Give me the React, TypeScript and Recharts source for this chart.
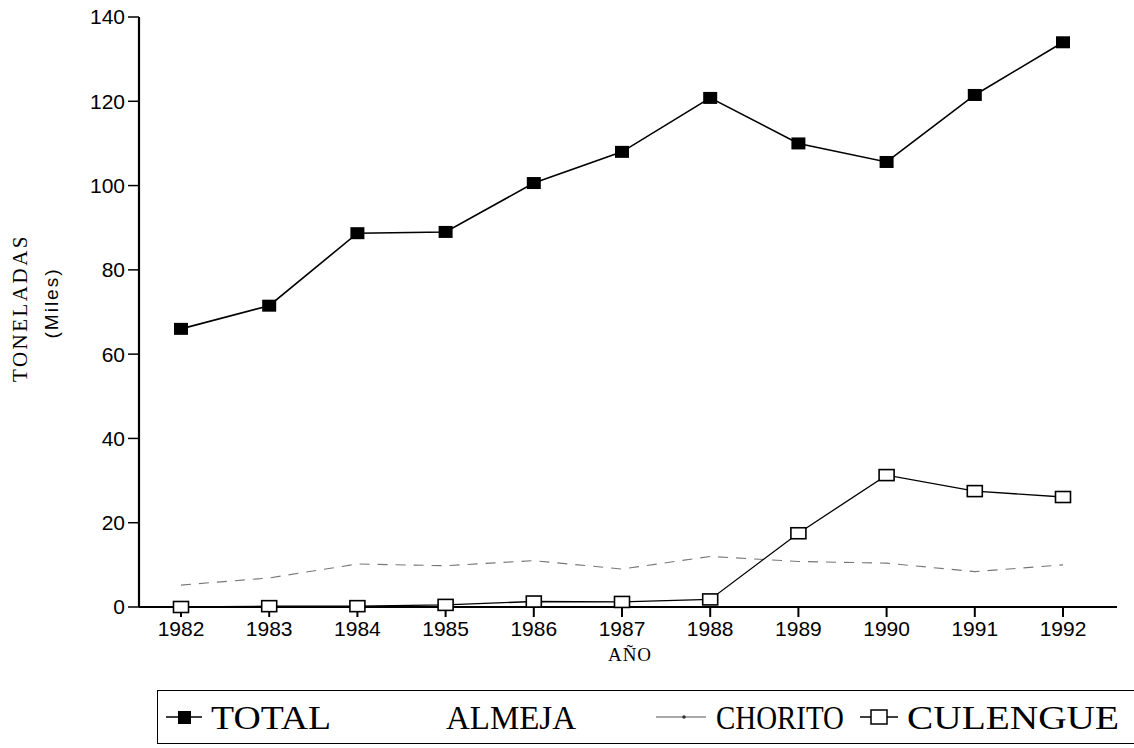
import React from 'react';
import { LineChart, Line, XAxis, YAxis } from 'recharts';

const YEARS = ['1982', '1983', '1984', '1985', '1986', '1987', '1988', '1989', '1990', '1991', '1992'];
const TOTAL = [66, 71.5, 88.7, 89, 100.6, 108, 120.8, 110, 105.6, 121.5, 134];
const CHORITO = [5.2, 6.9, 10.2, 9.8, 11, 9, 12, 10.8, 10.4, 8.4, 10];
const CULENGUE = [0, 0.2, 0.2, 0.5, 1.3, 1.2, 1.8, 17.5, 31.3, 27.5, 26.1];
const Y_TICKS = [0, 20, 40, 60, 80, 100, 120, 140];
const SERIES_NAMES = ['TOTAL', 'ALMEJA', 'CHORITO', 'CULENGUE'];

const data = YEARS.map((y, i) => ({
  year: y,
  total: TOTAL[i],
  chorito: CHORITO[i],
  culengue: CULENGUE[i],
}));

const SANS = '"Liberation Sans", Arial, sans-serif';
const SERIF = '"Liberation Serif", "Times New Roman", serif';

const FilledSquare = (props: any) => {
  const { cx, cy, index } = props;
  if (cx == null || cy == null) return <g key={index} />;
  return <rect key={index} x={cx - 7} y={cy - 6} width={14} height={12} fill="#000" />;
};

const OpenSquare = (props: any) => {
  const { cx, cy, index } = props;
  if (cx == null || cy == null) return <g key={index} />;
  return <rect key={index} x={cx - 7.5} y={cy - 5.5} width={15} height={11} fill="#fff" stroke="#000" strokeWidth={1.6} />;
};

const LEGEND_LAYOUT = [
  { sym: 8, text: 53, w: 120 },
  { sym: -1, text: 288, w: 130 },
  { sym: 498, text: 558, w: 128 },
  { sym: 702, text: 749, w: 212 },
];

function LegendBox() {
  return (
    <div
      style={{
        position: 'absolute',
        left: 157,
        top: 690,
        width: 977,
        height: 54,
        borderTop: '1.5px solid #000',
        borderLeft: '1.5px solid #000',
        borderBottom: '1.5px solid #000',
        boxSizing: 'border-box',
      }}
    >
      <svg width={977} height={52} style={{ position: 'absolute', left: 0, top: 0 }}>
        <line x1={LEGEND_LAYOUT[0].sym} x2={LEGEND_LAYOUT[0].sym + 36} y1={26} y2={26} stroke="#000" strokeWidth={1.5} />
        <rect x={LEGEND_LAYOUT[0].sym + 12} y={20} width={13} height={13} fill="#000" />
        <line x1={LEGEND_LAYOUT[2].sym} x2={LEGEND_LAYOUT[2].sym + 50} y1={26} y2={26} stroke="#555" strokeWidth={1.2} />
        <circle cx={LEGEND_LAYOUT[2].sym + 28} cy={26} r={1.8} fill="#333" />
        <line x1={LEGEND_LAYOUT[3].sym} x2={LEGEND_LAYOUT[3].sym + 38} y1={26} y2={26} stroke="#000" strokeWidth={1.5} />
        <rect x={LEGEND_LAYOUT[3].sym + 11} y={19} width={16} height={14} fill="#fff" stroke="#000" strokeWidth={1.5} />
        {SERIES_NAMES.map((n, i) => (
          <text
            key={n}
            x={LEGEND_LAYOUT[i].text}
            y={26}
            dominantBaseline="central"
            fontFamily={SERIF}
            fontSize={34}
            textLength={LEGEND_LAYOUT[i].w}
            lengthAdjust="spacingAndGlyphs"
            fill="#000"
          >
            {n}
          </text>
        ))}
      </svg>
    </div>
  );
}

export default function App() {
  return (
    <div style={{ position: 'absolute', left: 0, top: 0, width: 1134, height: 748, background: '#fff', overflow: 'hidden' }}>
      <LineChart
        width={1134}
        height={748}
        data={data}
        margin={{ top: 17, right: 17, left: 70, bottom: 81 }}
      >
        <XAxis
          xAxisId="bottom"
          dataKey="year"
          height={60}
          padding={{ left: 42, right: 54 }}
          tickSize={10}
          tickMargin={4}
          axisLine={{ stroke: '#000', strokeWidth: 2.2 }}
          tickLine={{ stroke: '#000', strokeWidth: 2 }}
          tick={{ fill: '#000', fontSize: 21, fontFamily: SANS }}
          interval={0}
        />
        <XAxis
          xAxisId="top"
          dataKey="year"
          orientation="top"
          height={0}
          padding={{ left: 42, right: 54 }}
          tick={false}
          tickLine={false}
          axisLine={{ stroke: '#000', strokeWidth: 2.4 }}
        />
        <YAxis
          yAxisId="left"
          width={69}
          domain={[0, 140]}
          ticks={Y_TICKS}
          tickSize={11}
          tickMargin={3}
          interval={0}
          axisLine={{ stroke: '#000', strokeWidth: 2.2 }}
          tickLine={{ stroke: '#000', strokeWidth: 1.5 }}
          tick={{ fill: '#000', fontSize: 21, fontFamily: SANS }}
        />
        <YAxis
          yAxisId="right"
          orientation="right"
          width={0}
          domain={[0, 140]}
          tick={false}
          tickLine={false}
          axisLine={{ stroke: '#000', strokeWidth: 1.6 }}
        />
        <Line
          xAxisId="bottom"
          yAxisId="left"
          dataKey="chorito"
          type="linear"
          stroke="#777"
          strokeWidth={1.1}
          strokeDasharray="10 8"
          dot={false}
          isAnimationActive={false}
        />
        <Line
          xAxisId="bottom"
          yAxisId="left"
          dataKey="culengue"
          type="linear"
          stroke="#000"
          strokeWidth={1.3}
          dot={<OpenSquare />}
          isAnimationActive={false}
        />
        <Line
          xAxisId="bottom"
          yAxisId="left"
          dataKey="total"
          type="linear"
          stroke="#000"
          strokeWidth={1.6}
          dot={<FilledSquare />}
          isAnimationActive={false}
        />
      </LineChart>
      <svg width={1134} height={748} style={{ position: 'absolute', left: 0, top: 0, pointerEvents: 'none' }}>
        <text
          x={20}
          y={308}
          transform="rotate(-90 20 308)"
          textAnchor="middle"
          dominantBaseline="central"
          fontFamily={SERIF}
          fontSize={21}
          letterSpacing={2.5}
          fill="#000"
        >
          TONELADAS
        </text>
        <text
          x={51}
          y={303}
          transform="rotate(-90 51 303)"
          textAnchor="middle"
          dominantBaseline="central"
          fontFamily={SANS}
          fontSize={19}
          letterSpacing={2}
          fill="#000"
        >
          (Miles)
        </text>
        <text
          x={630}
          y={654}
          textAnchor="middle"
          dominantBaseline="central"
          fontFamily={SERIF}
          fontSize={19}
          letterSpacing={1}
          fill="#000"
        >
          AÑO
        </text>
      </svg>
      <LegendBox />
    </div>
  );
}
